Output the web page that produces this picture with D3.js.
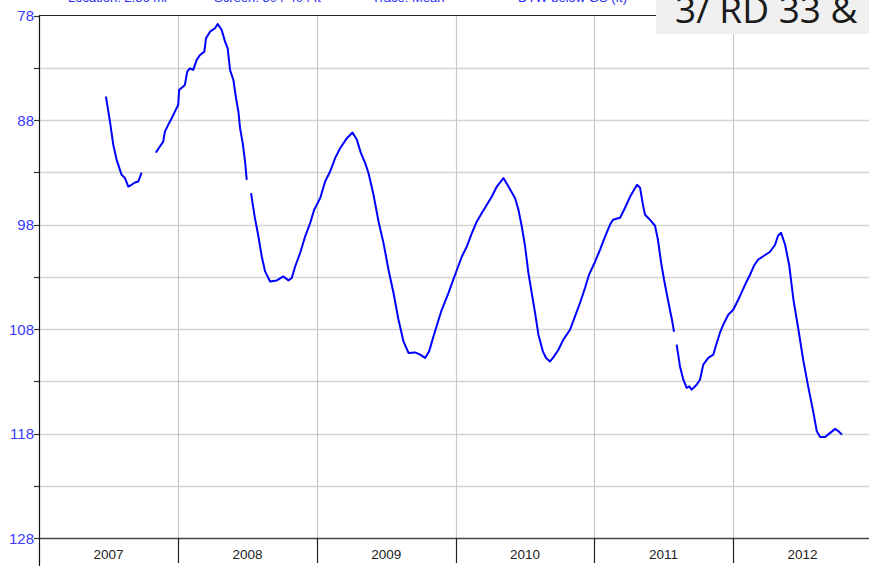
<!DOCTYPE html>
<html><head><meta charset="utf-8">
<script src="https://cdn.jsdelivr.net/npm/d3@7"></script>
<style>body{margin:0;background:#fff}svg{display:block}</style>
</head><body>
<script>
// decimal-year positions of readings (null = data gap)
const years = [
 2007.481,2007.510,2007.534,2007.558,2007.594,2007.618,2007.642,2007.666,2007.690,2007.714,2007.738,
 null,
 2007.841,2007.870,2007.894,2007.906,2007.930,2007.955,2007.978,2008.002,2008.009,2008.050,2008.067,2008.086,2008.110,2008.135,2008.159,2008.190,2008.202,2008.231,2008.267,2008.286,2008.315,2008.339,2008.358,2008.375,2008.399,2008.418,2008.435,2008.447,2008.466,2008.483,2008.495,
 null,
 2008.526,2008.551,2008.579,2008.603,2008.627,2008.663,2008.711,2008.759,2008.795,2008.819,2008.843,2008.879,2008.915,2008.951,2008.980,2009.023,2009.059,2009.095,2009.131,2009.167,2009.216,2009.256,2009.288,2009.317,2009.348,2009.372,2009.408,2009.444,2009.480,2009.516,2009.552,2009.588,2009.624,2009.660,2009.708,2009.744,2009.780,2009.809,2009.840,2009.881,2009.900,2009.948,2009.996,2010.045,2010.081,2010.117,2010.153,2010.189,2010.225,2010.261,2010.297,2010.345,2010.381,2010.429,2010.453,2010.477,2010.501,2010.525,2010.549,2010.573,2010.597,2010.629,2010.652,2010.681,2010.710,2010.741,2010.777,2010.825,2010.861,2010.897,2010.933,2010.962,2011.005,2011.041,2011.077,2011.113,2011.135,2011.186,2011.222,2011.258,2011.287,2011.308,2011.330,2011.351,2011.366,2011.402,2011.438,2011.459,2011.481,2011.503,2011.531,2011.560,2011.575,
 null,
 2011.594,2011.618,2011.642,2011.666,2011.685,2011.702,2011.738,2011.762,2011.786,2011.822,2011.858,2011.883,2011.906,2011.930,2011.966,2012.002,2012.038,2012.065,2012.094,2012.123,2012.151,2012.180,2012.223,2012.267,2012.303,2012.324,2012.346,2012.375,2012.404,2012.435,2012.471,2012.507,2012.543,2012.579,2012.603,2012.627,2012.663,2012.699,2012.735,2012.759,2012.784
];
// depth to water below ground surface (ft)
const depthFt = [
 85.76,88.15,90.38,91.81,93.25,93.54,94.37,94.20,93.98,93.89,93.03,
 null,
 91.12,90.54,90.07,89.11,88.47,87.83,87.20,86.56,85.12,84.64,83.37,83.05,83.21,82.25,81.78,81.46,80.18,79.55,79.22,78.81,79.39,80.50,81.14,83.21,84.17,85.92,87.20,88.78,90.22,91.98,93.73,
 null,
 95.00,97.17,99.15,101.06,102.49,103.45,103.35,102.97,103.35,103.12,102.02,100.73,99.15,97.87,96.59,95.48,93.89,92.93,91.65,90.70,89.74,89.20,89.90,91.17,92.13,93.09,95.16,97.71,99.78,102.33,104.56,107.11,109.19,110.29,110.24,110.46,110.77,110.14,108.71,106.95,106.16,104.56,102.81,101.06,100.10,98.82,97.71,96.91,96.12,95.32,94.37,93.56,94.37,95.48,96.59,98.19,100.10,102.65,104.56,106.47,108.54,110.14,110.77,111.10,110.62,109.98,109.02,108.07,106.80,105.51,104.08,102.81,101.57,100.42,99.18,98.03,97.55,97.36,96.40,95.35,94.68,94.20,94.49,96.12,97.07,97.55,98.12,99.46,101.57,103.29,105.20,107.11,108.26,
 null,
 109.50,111.58,112.85,113.64,113.49,113.80,113.33,112.85,111.41,110.77,110.46,109.34,108.38,107.59,106.63,106.16,105.20,104.43,103.57,102.81,101.95,101.37,100.99,100.61,99.94,99.08,98.79,99.94,101.85,105.20,108.07,111.10,113.64,116.03,117.79,118.33,118.33,117.94,117.56,117.79,118.11
];
const yearLabels = ["2007","2008","2009","2010","2011","2012"];
const yMajorTicks = [78,88,98,108,118,128];
const yMinorTicks = [83,93,103,113,123];
const legendItems = ["Location: 2.36 mi","Screen: 304-404 ft","Trace: Mean","DTW below GS (ft)"];
const stationLabel = "3/ RD 33 &";

function decToDate(d){
  if(d==null) return null;
  const y = Math.floor(d), f = d - y;
  const a = new Date(y,0,1), b = new Date(y+1,0,1);
  return new Date(+a + f*(b-a));
}
const data = years.map((t,i)=>({date:decToDate(t), v:depthFt[i]}));

const W=869,H=566;
const svg = d3.select("body").append("svg").attr("width",W).attr("height",H)
  .style("font-family","Arial, 'Liberation Sans', sans-serif");

const x = d3.scaleTime().domain([new Date(2007,0,1), new Date(2013,0,1)]).range([39.25, 872]);
const y = d3.scaleLinear().domain([78,128]).range([15.5, 538]);

// horizontal gridlines
svg.append("g").selectAll("line").data(yMajorTicks.concat(yMinorTicks).filter(d=>d!==78 && d!==128))
  .join("line").attr("x1",39).attr("x2",W).attr("y1",d=>Math.round(y(d))+0.5).attr("y2",d=>Math.round(y(d))+0.5)
  .attr("stroke","#d4d4d4").attr("stroke-width",1.5);

// vertical year gridlines
const yearStarts = yearLabels.map(s=>new Date(+s,0,1));
svg.append("g").selectAll("line").data(yearStarts.slice(1))
  .join("line").attr("x1",d=>Math.round(x(d))+0.5).attr("x2",d=>Math.round(x(d))+0.5).attr("y1",15).attr("y2",538)
  .attr("stroke","#c8c8c8").attr("stroke-width",1.2);

// top border
svg.append("line").attr("x1",39).attr("x2",W).attr("y1",15.5).attr("y2",15.5).attr("stroke","#222").attr("stroke-width",1.2);
// bottom axis line
svg.append("line").attr("x1",39).attr("x2",W).attr("y1",538.5).attr("y2",538.5).attr("stroke","#444").attr("stroke-width",1.5);
// left axis
svg.append("line").attr("x1",39.5).attr("x2",39.5).attr("y1",15).attr("y2",H).attr("stroke","#111").attr("stroke-width",1.2);

// year separators below axis
svg.append("g").selectAll("line").data(yearStarts.slice(1))
  .join("line").attr("x1",d=>Math.round(x(d))+0.5).attr("x2",d=>Math.round(x(d))+0.5).attr("y1",538).attr("y2",563)
  .attr("stroke","#222").attr("stroke-width",1.2);

// year labels centered in each year
svg.append("g").selectAll("text").data(yearLabels)
  .join("text").attr("x",d=>(x(new Date(+d,0,1))+x(new Date(+d+1,0,1)))/2).attr("y",559)
  .attr("text-anchor","middle").attr("font-size",13.5).attr("fill","#222").text(d=>d);

// y axis ticks
svg.append("g").selectAll("line").data(yMajorTicks.concat(yMinorTicks))
  .join("line").attr("x1",34).attr("x2",39).attr("y1",d=>Math.round(y(d))+0.5).attr("y2",d=>Math.round(y(d))+0.5)
  .attr("stroke","#333").attr("stroke-width",1.2);
svg.append("g").selectAll("text").data(yMajorTicks)
  .join("text").attr("x",34).attr("y",d=>y(d)+5.5).attr("text-anchor","end")
  .attr("font-size",15).attr("fill","#3a3aff").text(d=>d);

// series line
const line = d3.line().defined(d=>d.v!=null && d.date!=null).x(d=>x(d.date)).y(d=>y(d.v));
svg.append("path").datum(data).attr("d",line).attr("fill","none").attr("stroke","#0000ff").attr("stroke-width",2)
  .attr("stroke-linejoin","round");

// cut-off legend text at top (clipped by the page edge, as in the reference)
const legX = [68,214,372,518];
svg.append("g").selectAll("text").data(legendItems)
  .join("text").attr("x",(d,i)=>legX[i]).attr("y",2).attr("font-size",13).attr("fill","#2a2aff").text(d=>d);

// top-right gray box with station label
svg.append("rect").attr("x",656).attr("y",0).attr("width",W-656).attr("height",34).attr("fill","#f0f0f0");
svg.append("text").attr("x",675).attr("y",23).attr("font-family","'Open Sans', sans-serif").attr("font-size",37)
  .attr("fill","#1a1a1a").text(stationLabel);
</script>
</body></html>
